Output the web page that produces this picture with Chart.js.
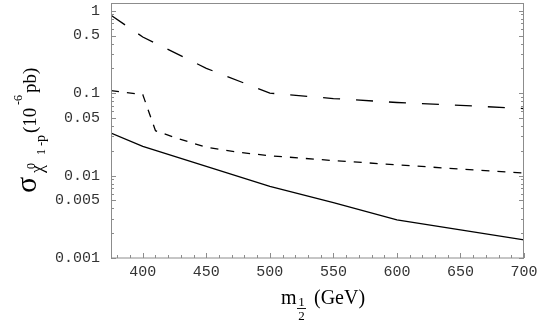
<!DOCTYPE html>
<html>
<head>
<meta charset="utf-8">
<script src="https://cdn.jsdelivr.net/npm/chart.js@4/dist/chart.umd.min.js"></script>
<style>
  html, body { margin: 0; padding: 0; background: #fff; }
</style>
</head>
<body>
<canvas id="chart" width="545" height="333"></canvas>
<script>
// values (m_1/2 in GeV, cross-section in 1e-6 pb)
const longX   = [375, 400, 450, 500, 550, 600, 650, 700];
const longY   = [0.88, 0.48, 0.20, 0.10, 0.086, 0.077, 0.071, 0.065];

const shortX  = [375, 400, 410, 425, 450, 475, 500, 550, 600, 650, 700];
const shortY  = [0.107, 0.096, 0.035, 0.029, 0.022, 0.0192, 0.0174, 0.0152, 0.0135, 0.012, 0.0107];

const solidX  = [375, 400, 450, 500, 550, 600, 650, 700];
const solidY  = [0.0328, 0.0226, 0.0129, 0.0074, 0.0047, 0.0029, 0.0022, 0.00166];

const xTicks = [];
for (let v = 380; v <= 700; v += 10) xTicks.push(v);
const xLabels = [400, 450, 500, 550, 600, 650, 700];

const yTicks = [];
for (let e = -3; e <= -1; e++) {
  for (let k = 1; k <= 9; k++) yTicks.push(Number((k * Math.pow(10, e)).toPrecision(3)));
}
yTicks.push(1);
const yLabels = [0.001, 0.005, 0.01, 0.05, 0.1, 0.5, 1];

function pts(xs, ys) {
  return xs.map((x, i) => ({x: x, y: ys[i]}));
}

const frameColor = '#8c8c8c';

// frame, inward ticks and the two axis titles
const decor = {
  id: 'decor',
  afterDraw(chart) {
    const {ctx, chartArea: a, scales: {x, y}} = chart;
    ctx.save();
    ctx.strokeStyle = frameColor;
    ctx.lineWidth = 1;
    ctx.strokeRect(a.left + 0.5, a.top + 0.5, a.right - a.left - 1, a.bottom - a.top - 0.5);

    ctx.beginPath();
    x.ticks.forEach(t => {
      const px = Math.round(x.getPixelForValue(t.value)) + 0.5;
      const len = t.value % 50 === 0 ? 5 : 3;
      ctx.moveTo(px, a.bottom);
      ctx.lineTo(px, a.bottom - len);
    });
    y.ticks.forEach(t => {
      const py = Math.round(y.getPixelForValue(t.value)) + 0.5;
      const len = yLabels.includes(t.value) ? 5 : 3;
      ctx.moveTo(a.left, py);
      ctx.lineTo(a.left + len, py);
      ctx.moveTo(a.right, py);
      ctx.lineTo(a.right - len, py);
    });
    ctx.stroke();

    ctx.fillStyle = '#000';
    ctx.textBaseline = 'alphabetic';
    ctx.textAlign = 'left';
    const serif = '"Liberation Serif", "Times New Roman", serif';

    // x title: m_{1/2} (GeV)
    ctx.font = '20px ' + serif;
    ctx.fillText('m', 281, 304);
    ctx.font = '13px ' + serif;
    ctx.textAlign = 'center';
    ctx.fillText('1', 301.5, 306);
    ctx.fillText('2', 301.5, 320);
    ctx.fillRect(297, 308, 9, 0.9);
    ctx.textAlign = 'left';
    ctx.font = '20px ' + serif;
    ctx.fillText('(GeV)', 314, 304);

    // y title: sigma_{chi^0_1 - p} (10^-6 pb), rotated
    ctx.translate(36, 193);
    ctx.rotate(-Math.PI / 2);
    const parts = [
      ['σ', 30, 0, 0],
      ['χ', 18, 20, 7],
      ['0', 12, 24, -1],
      ['1', 12, 38, 9],
      ['-', 13, 47, 9],
      ['p', 14, 51, 9],
      ['(10', 19, 60, 0],
      ['-6', 12, 88, -14],
      ['pb)', 19, 100, 0]
    ];
    parts.forEach(([txt, size, fx, dy]) => {
      ctx.font = size + 'px ' + serif;
      ctx.fillText(txt, fx, dy);
    });
    ctx.restore();
  }
};

const line = (data, dash) => ({
  data: data,
  borderColor: '#000',
  borderWidth: 1.3,
  borderDash: dash,
  pointRadius: 0,
  tension: 0,
  fill: false
});

const chart = new Chart(document.getElementById('chart'), {
  type: 'line',
  data: {
    datasets: [
      line(pts(longX, longY), [17, 16]),
      line(pts(shortX, shortY), [8, 8]),
      line(pts(solidX, solidY), [])
    ]
  },
  options: {
    responsive: false,
    animation: false,
    events: [],
    layout: { padding: { left: 0, top: 3, right: 21, bottom: 0 } },
    plugins: { legend: { display: false }, tooltip: { enabled: false } },
    scales: {
      x: {
        type: 'linear',
        min: 375,
        max: 700,
        grid: { display: false, drawTicks: false },
        border: { display: false },
        afterBuildTicks: s => { s.ticks = xTicks.map(v => ({value: v})); },
        afterFit: s => { s.height = 75; s.paddingLeft = 0; s.paddingRight = 0; },
        ticks: {
          autoSkip: false,
          maxRotation: 0,
          padding: 5,
          color: '#333',
          font: { family: '"Liberation Mono", monospace', size: 15 },
          callback: v => xLabels.includes(v) ? String(v) : ''
        }
      },
      y: {
        type: 'logarithmic',
        min: 0.001,
        max: 1.24,
        grid: { display: false, drawTicks: false },
        border: { display: false },
        afterBuildTicks: s => { s.ticks = yTicks.map(v => ({value: v})); },
        afterFit: s => { s.width = 111; s.paddingTop = 0; s.paddingBottom = 0; },
        ticks: {
          autoSkip: false,
          padding: 11,
          color: '#333',
          font: { family: '"Liberation Mono", monospace', size: 15 },
          callback: v => yLabels.includes(v) ? String(v) : ''
        }
      }
    }
  },
  plugins: [decor]
});
</script>
</body>
</html>
